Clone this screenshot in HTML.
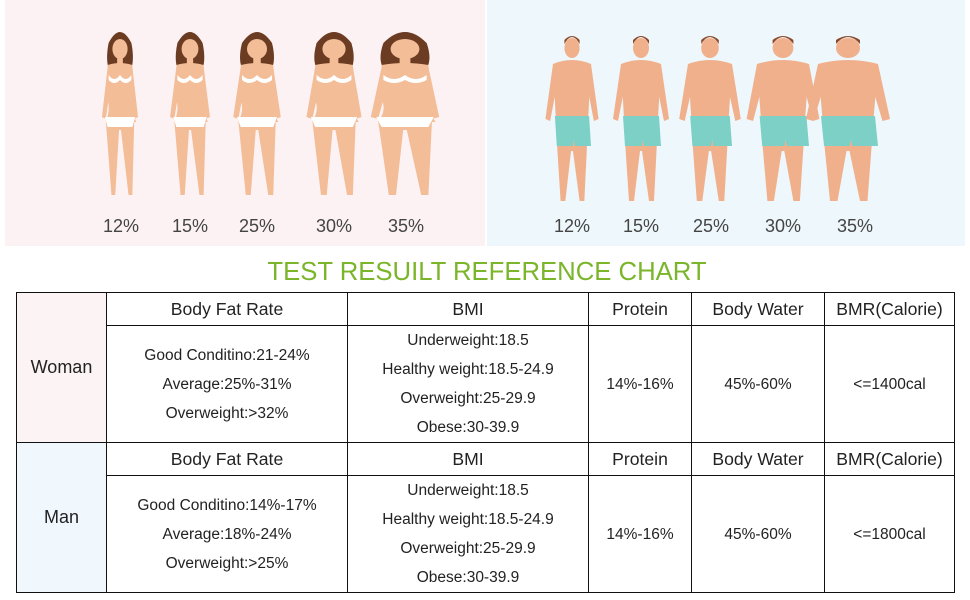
<!DOCTYPE html>
<html><head><meta charset="utf-8"><style>
body{margin:0;width:970px;height:600px;background:#fff;font-family:"Liberation Sans",sans-serif;position:relative;overflow:hidden}
table{position:absolute;left:16px;top:292px;border-collapse:collapse;width:939px}
td{border:1.5px solid #111;text-align:center;color:#222;padding:0}
.h td{font-size:17.6px;height:32px}
.c{font-size:15.5px;line-height:29px}
</style></head><body>
<svg width="970" height="600" style="position:absolute;left:0;top:0">
<rect x="5" y="0" width="480" height="246" fill="#fcf2f4"/>
<rect x="487" y="0" width="478" height="246" fill="#eef7fc"/>
<defs>
<g id="w">
<path d="M-12,8 q12,-22 24,0 q4,20 -2,30 l-20,0 q-6,-10 -2,-30z" fill="#6b3b22"/>
<ellipse cx="0" cy="14" rx="8" ry="10" fill="#f3bd97"/>
<rect x="-3" y="22" width="6" height="8" fill="#f3bd97"/>
<path d="M-13,30 q13,-4 26,0 l2,35 q-3,10 2,22 l-32,0 q5,-12 2,-22z" fill="#f3bd97"/>
<path d="M-13,32 l-6,50 l4,2 l7,-45z M13,32 l6,50 l-4,2 l-7,-45z" fill="#f3bd97"/>
<path d="M-15,85 l30,0 l-2,75 l-4,0 l-8,-65 l-2,0 l-4,65 l-4,0z" fill="#f3bd97"/>
<path d="M-12,40 q6,8 12,0 q6,8 12,0 l0,5 q-6,6 -12,0 q-6,6 -12,0z" fill="#fff"/>
<path d="M-16,82 l32,0 l-3,10 l-26,0z" fill="#fff"/>
</g>
<g id="m">
<ellipse cx="0" cy="12" rx="8" ry="10" fill="#f0b08c"/>
<path d="M-8,8 q8,-14 16,0 l0,-4 q-8,-8 -16,0z" fill="#8a4a2a"/>
<path d="M-20,28 q20,-8 40,0 l-3,55 l-34,0z" fill="#f0b08c"/>
<path d="M-20,28 l-8,55 l5,2 l9,-45z M20,28 l8,55 l-5,2 l-9,-45z" fill="#f0b08c"/>
<path d="M-16,105 l32,0 l-3,60 l-5,0 l-7,-50 l-2,0 l-6,50 l-5,0z" fill="#f0b08c"/>
<path d="M-18,80 l36,0 l2,30 l-17,0 l-1,-6 l-1,6 l-17,0z" fill="#7dd0c6"/>
</g>
</defs>
<g transform="translate(120,35)"><use href="#w" transform="scale(0.95,1)"/></g>
<g transform="translate(190,35)"><use href="#w" transform="scale(1.05,1)"/></g>
<g transform="translate(257,35)"><use href="#w" transform="scale(1.25,1)"/></g>
<g transform="translate(334,35)"><use href="#w" transform="scale(1.45,1)"/></g>
<g transform="translate(405,35)"><use href="#w" transform="scale(1.8,1)"/></g>
<g transform="translate(572,36)"><use href="#m" transform="scale(0.95,1)"/></g>
<g transform="translate(641,36)"><use href="#m" transform="scale(1.0,1)"/></g>
<g transform="translate(710,36)"><use href="#m" transform="scale(1.1,1)"/></g>
<g transform="translate(783,36)"><use href="#m" transform="scale(1.3,1)"/></g>
<g transform="translate(848,36)"><use href="#m" transform="scale(1.5,1)"/></g>
<g font-family="Liberation Sans,sans-serif" font-size="18" fill="#444" text-anchor="middle">
<text x="121" y="232">12%</text><text x="190" y="232">15%</text><text x="257" y="232">25%</text><text x="334" y="232">30%</text><text x="406" y="232">35%</text>
<text x="572" y="232">12%</text><text x="641" y="232">15%</text><text x="711" y="232">25%</text><text x="783" y="232">30%</text><text x="855" y="232">35%</text>
</g>
<text x="487" y="280" text-anchor="middle" font-family="Liberation Sans,sans-serif" font-size="25.7" fill="#7ab52a">TEST RESUILT REFERENCE CHART</text>
</svg>
<table>
<tr class="h"><td rowspan="2" style="width:89px;background:#fcf3f5;font-size:18px">Woman</td><td style="width:240px">Body Fat Rate</td><td style="width:240px">BMI</td><td style="width:102px">Protein</td><td style="width:132px">Body Water</td><td>BMR(Calorie)</td></tr>
<tr><td class="c" style="height:116px">Good Conditino:21-24%<br>Average:25%-31%<br>Overweight:&gt;32%</td><td class="c">Underweight:18.5<br>Healthy weight:18.5-24.9<br>Overweight:25-29.9<br>Obese:30-39.9</td><td class="c">14%-16%</td><td class="c">45%-60%</td><td class="c">&lt;=1400cal</td></tr>
<tr class="h"><td rowspan="2" style="background:#f0f8fd;font-size:18px">Man</td><td>Body Fat Rate</td><td>BMI</td><td>Protein</td><td>Body Water</td><td>BMR(Calorie)</td></tr>
<tr><td class="c" style="height:116px">Good Conditino:14%-17%<br>Average:18%-24%<br>Overweight:&gt;25%</td><td class="c">Underweight:18.5<br>Healthy weight:18.5-24.9<br>Overweight:25-29.9<br>Obese:30-39.9</td><td class="c">14%-16%</td><td class="c">45%-60%</td><td class="c">&lt;=1800cal</td></tr>
</table>
</body></html>
